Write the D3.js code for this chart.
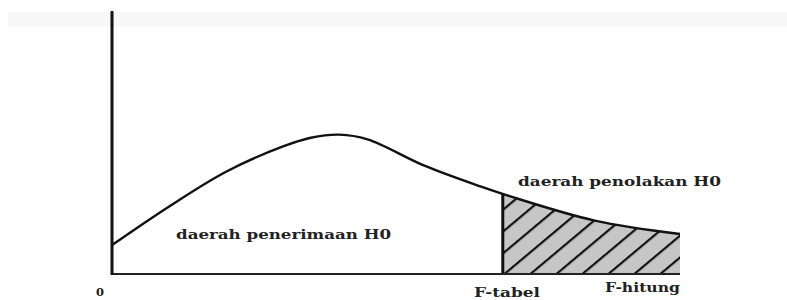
<!DOCTYPE html>
<html>
<head>
<meta charset="utf-8">
<script src="https://cdn.jsdelivr.net/npm/d3@7"></script>
<style>
  body { margin: 0; background: #fff; }
  text { font-family: 'DejaVu Serif', 'Liberation Serif', serif; font-weight: bold; fill: #222; }
</style>
</head>
<body>
<div id="chart"></div>
<script>
// curve (x in F units, y as relative density)
const curveX = [0, 1, 2, 3, 3.5, 4, 4.5, 5.5, 6.5, 7, 8.5, 10];
const curveY = [0.110, 0.256, 0.388, 0.484, 0.518, 0.530, 0.512, 0.412, 0.332, 0.296, 0.203, 0.152];

const F_TABEL = 6.88;
const F_END = 10;

const labels = ['daerah penerimaan H0', 'daerah penolakan H0', 'F-tabel', 'F-hitung', '0'];

const WIDTH = 787;
const HEIGHT = 300;
const MARGIN = { top: 11, right: 107, bottom: 26, left: 112 };

const svg = d3
  .select('#chart')
  .append('svg')
  .attr('width', WIDTH)
  .attr('height', HEIGHT);

// faint band at the top of the scan
svg.append('rect')
  .attr('x', 8).attr('y', 12)
  .attr('width', WIDTH - 8).attr('height', 14)
  .attr('fill', '#f7f7f7');

const x = d3.scaleLinear()
  .domain([0, F_END])
  .range([MARGIN.left, WIDTH - MARGIN.right]);
const y = d3.scaleLinear()
  .domain([0, 1])
  .range([HEIGHT - MARGIN.bottom, MARGIN.top]);

const pts = curveX.map((d, i) => [d, curveY[i]]);
const curve = d3.curveCatmullRom.alpha(0.5);

const line = d3.line()
  .x((d) => x(d[0]))
  .y((d) => y(d[1]))
  .curve(curve);

const area = d3.area()
  .x((d) => x(d[0]))
  .y0(y(0))
  .y1((d) => y(d[1]))
  .curve(curve);

const defs = svg.append('defs');

defs.append('clipPath')
  .attr('id', 'under')
  .append('path')
  .attr('d', area(pts));

// diagonal hatching
const pat = defs.append('pattern')
  .attr('id', 'hatch')
  .attr('patternUnits', 'userSpaceOnUse')
  .attr('width', 16.7)
  .attr('height', 16.7)
  .attr('patternTransform', 'translate(' + x(F_TABEL) + ',' + y(0) + ') rotate(50)');
pat.append('line')
  .attr('x1', 1).attr('y1', -2)
  .attr('x2', 1).attr('y2', 20)
  .attr('stroke', '#111')
  .attr('stroke-width', 2.4);

// rejection region
const gReject = svg.append('g').attr('clip-path', 'url(#under)');
gReject.append('rect')
  .attr('x', x(F_TABEL))
  .attr('y', y(1))
  .attr('width', x(F_END) - x(F_TABEL))
  .attr('height', y(0) - y(1))
  .attr('fill', '#c6c6c6');
gReject.append('rect')
  .attr('x', x(F_TABEL))
  .attr('y', y(1))
  .attr('width', x(F_END) - x(F_TABEL))
  .attr('height', y(0) - y(1))
  .attr('fill', 'url(#hatch)');
gReject.append('line')
  .attr('x1', x(F_TABEL)).attr('x2', x(F_TABEL))
  .attr('y1', y(0)).attr('y2', y(1))
  .attr('stroke', '#111')
  .attr('stroke-width', 3);

// density curve
svg.append('path')
  .attr('d', line(pts))
  .attr('fill', 'none')
  .attr('stroke', '#111')
  .attr('stroke-width', 2.4);

// axes
svg.append('line')
  .attr('x1', x(0)).attr('x2', x(F_END))
  .attr('y1', y(0)).attr('y2', y(0))
  .attr('stroke', '#222')
  .attr('stroke-width', 2);
svg.append('line')
  .attr('x1', x(0)).attr('x2', x(0))
  .attr('y1', y(0) + 1).attr('y2', y(1))
  .attr('stroke', '#111')
  .attr('stroke-width', 3);

// labels
const labelPos = [
  { x: 176, y: 239, w: 215, size: 13 },
  { x: 518, y: 186, w: 203, size: 13 },
  { x: 474, y: 297, w: 66, size: 13 },
  { x: 605, y: 292, w: 75, size: 13 },
  { x: 96, y: 296, w: 8, size: 11 }
];

svg.selectAll('text.label')
  .data(labels)
  .join('text')
  .attr('class', 'label')
  .attr('x', (d, i) => labelPos[i].x)
  .attr('y', (d, i) => labelPos[i].y)
  .attr('textLength', (d, i) => labelPos[i].w)
  .attr('lengthAdjust', 'spacingAndGlyphs')
  .style('font-size', (d, i) => labelPos[i].size + 'px')
  .text((d) => d);
</script>
</body>
</html>
